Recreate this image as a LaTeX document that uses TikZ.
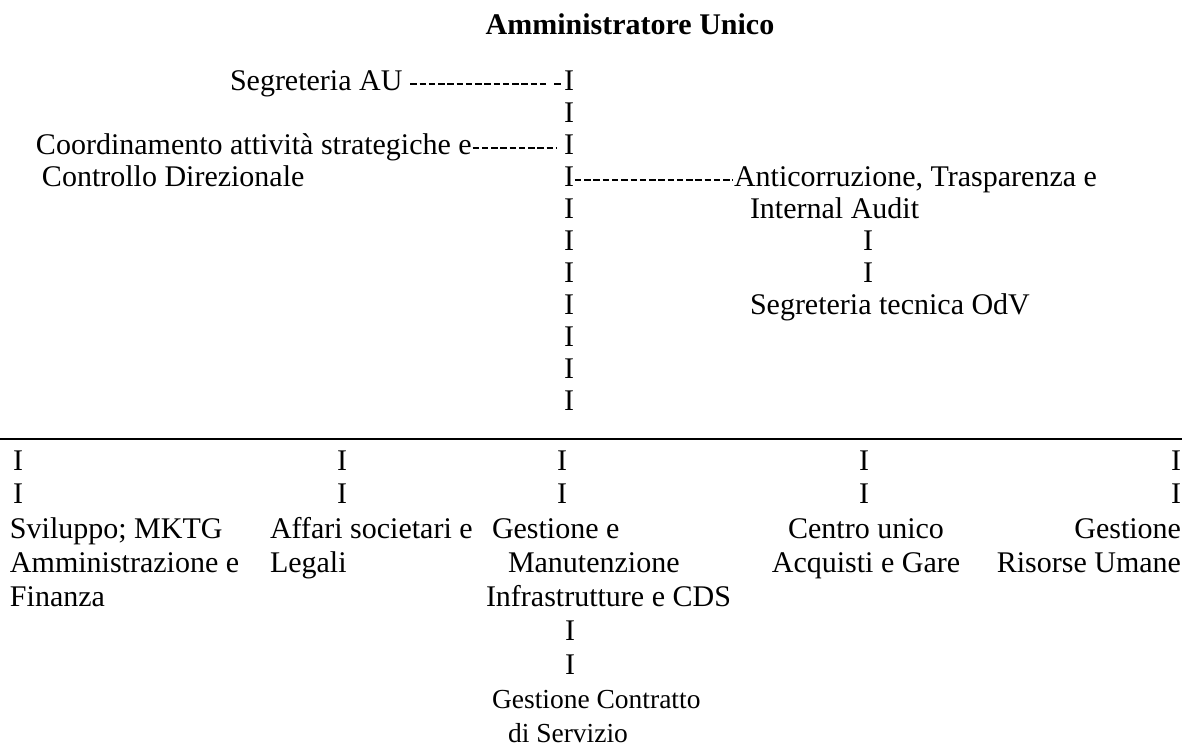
\documentclass[tikz,border=0pt]{standalone}
\usepackage{fontspec}
\setmainfont{Liberation Serif}
\usetikzlibrary{calc}
\begin{document}
\begin{tikzpicture}[x=0.4pt,y=-0.4pt,
  txt/.style={inner sep=0pt,outer sep=0pt,anchor=base west,font=\fontsize{12}{14}\selectfont},
  txtc/.style={txt,anchor=base},
  txtr/.style={txt,anchor=base east},
  small/.style={txt,font=\fontsize{11}{13}\selectfont},
  bar/.style={txt,anchor=base},
  ttl/.style={txt,anchor=base,font=\fontsize{12}{14}\selectfont\bfseries},
  dashline/.style={line width=0.55pt,dash pattern=on 2.6pt off 1.1pt},
  rule/.style={line width=0.6pt}]
\useasboundingbox (0,0) rectangle (1195,746);
\fill[white] (0,0) rectangle (1195,746);
% title
\node[ttl] (title) at (630,35) {Amministratore Unico};
% top block
\node[txt] (segau) at (230,91) {Segreteria AU};
\node[bar] (c1) at (569,91) {I};
\node[bar] (c2) at (569,123) {I};
\node[txt] (coord) at (36,155) {Coordinamento attività strategiche e};
\node[bar] (c3) at (569,155) {I};
\node[txt] (ctrl) at (42,187) {Controllo Direzionale};
\node[bar] (c4) at (569,187) {I};
\node[txt] (anti) at (734,187) {Anticorruzione, Trasparenza e};
\node[bar] (c5) at (569,219) {I};
\node[txt] (audit) at (750,219) {Internal Audit};
\node[bar] (c6) at (569,251) {I};
\node[bar] (a1) at (868,251) {I};
\node[bar] (c7) at (569,283) {I};
\node[bar] (a2) at (868,283) {I};
\node[bar] (c8) at (569,315) {I};
\node[txt] (odv) at (750,315) {Segreteria tecnica OdV};
\node[bar] (c9) at (569,347) {I};
\node[bar] (c10) at (569,379) {I};
\node[bar] (c11) at (569,411) {I};
% dashed connectors
\draw[dashline] ($(segau.base east)+(8,-7)$) -- ($(c1.base west)+(-18,-7)$);
\draw[dashline] ($(c1.base west)+(-10,-7)$) -- ($(c1.base west)+(-1,-7)$);
\draw[dashline] ($(coord.base east)+(1,-7)$) -- ($(c3.base west)+(-7,-7)$);
\draw[dashline] ($(c4.base east)+(1,-7)$) -- ($(anti.base west)+(-1,-7)$);
% horizontal rule
\coordinate (rl) at (0,439);
\coordinate (rr) at (1182,439);
\draw[rule] (rl) -- (rr);
% bottom block
\foreach \x/\n in {18/b1,342/b2,562/b3,864/b4,1176/b5}{
  \node[bar] (\n a) at (\x,470) {I};
  \node[bar] (\n b) at (\x,504) {I};
}
\node[txt] (svil) at (10,538) {Sviluppo; MKTG};
\node[txt] (amm) at (10,572) {Amministrazione e};
\node[txt] (fin) at (10,606) {Finanza};
\node[txt] (aff) at (270,538) {Affari societari e};
\node[txt] (leg) at (270,572) {Legali};
\node[txt] (gest) at (492,538) {Gestione e};
\node[txt] (man) at (508,572) {Manutenzione};
\node[txt] (infr) at (486,606) {Infrastrutture e CDS};
\node[txtc] (centro) at (866,538) {Centro unico};
\node[txtc] (acq) at (866,572) {Acquisti e Gare};
\node[txtr] (gru) at (1181,538) {Gestione};
\node[txtr] (ris) at (1181,572) {Risorse Umane};
\node[bar] (g1) at (570,640) {I};
\node[bar] (g2) at (570,674) {I};
\node[small] (gc) at (492,708) {Gestione Contratto};
\node[small] (ds) at (508,742) {di Servizio};
\end{tikzpicture}
\end{document}
